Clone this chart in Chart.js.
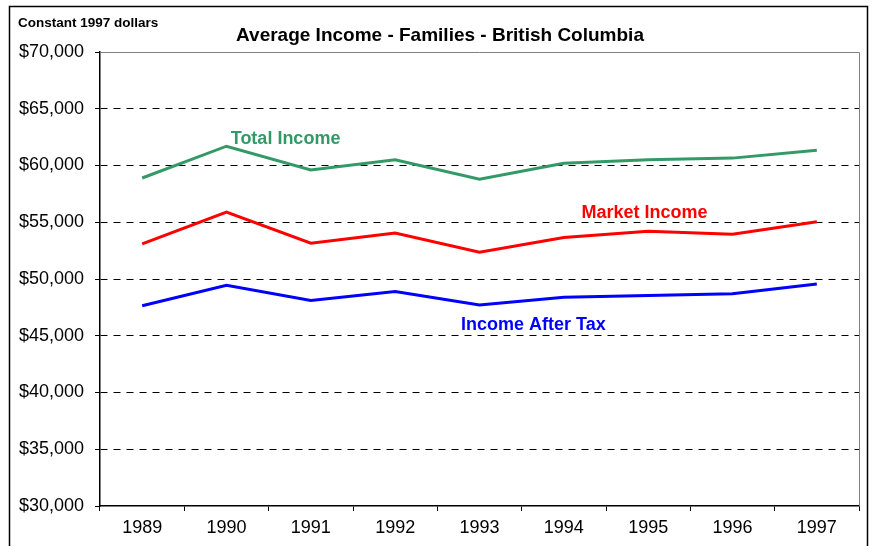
<!DOCTYPE html>
<html>
<head>
<meta charset="utf-8">
<script src="https://cdn.jsdelivr.net/npm/chart.js@4/dist/chart.umd.min.js"></script>
<style>
html, body { margin: 0; padding: 0; background: #fff; }
#wrap { width: 875px; height: 546px; position: relative; }
</style>
</head>
<body>
<div id="wrap"><canvas id="chart"></canvas></div>
<script>
var years = ['1989', '1990', '1991', '1992', '1993', '1994', '1995', '1996', '1997'];
var totalIncome = [58900, 61700, 59600, 60500, 58800, 60200, 60500, 60650, 61350];
var marketIncome = [53100, 55900, 53150, 54050, 52350, 53650, 54200, 53950, 55050];
var afterTax = [47650, 49450, 48100, 48900, 47700, 48400, 48550, 48700, 49550];
var yMin = 30000;
var yMax = 70000;
var yStep = 5000;

var chartTitle = 'Average Income - Families - British Columbia';
var unitNote = 'Constant 1997 dollars';

document.addEventListener('DOMContentLoaded', function () {

    // series names written next to their lines (x = category index, y = value)
    var lineLabels = [
        { text: 'Total Income', color: '#339966', x: 1.05, y: 62300 },
        { text: 'Market Income', color: '#ff0000', x: 5.21, y: 55800 },
        { text: 'Income After Tax', color: '#0000ff', x: 3.78, y: 45920 }
    ];

    var decorations = {
        id: 'decorations',
        afterDraw: function (chart) {
            var c = chart.ctx;
            var a = chart.chartArea;
            c.save();
            // outer frame
            c.strokeStyle = '#000';
            c.lineWidth = 1.5;
            c.strokeRect(9.5, 6.5, 858, 560);
            // plot area top and right edges
            c.strokeStyle = '#808080';
            c.lineWidth = 1;
            c.beginPath();
            c.moveTo(a.left, Math.round(a.top) + 0.5);
            c.lineTo(Math.round(a.right) + 0.5, Math.round(a.top) + 0.5);
            c.lineTo(Math.round(a.right) + 0.5, a.bottom);
            c.stroke();

            c.fillStyle = '#000';
            c.textBaseline = 'middle';
            c.textAlign = 'left';
            c.font = 'bold 13.5px Arial, "Liberation Sans", sans-serif';
            c.fillText(unitNote, 18, 23);
            c.textAlign = 'center';
            c.font = 'bold 19px Arial, "Liberation Sans", sans-serif';
            c.fillText(chartTitle, 440, 36);

            c.textAlign = 'left';
            c.font = 'bold 18px Arial, "Liberation Sans", sans-serif';
            var xs = chart.scales.x;
            var ys = chart.scales.y;
            lineLabels.forEach(function (l) {
                c.fillStyle = l.color;
                c.fillText(l.text, xs.getPixelForValue(l.x), ys.getPixelForValue(l.y));
            });
            c.restore();
        }
    };

    function makeSet(label, data, color) {
        return {
            label: label,
            data: data,
            borderColor: color,
            backgroundColor: color,
            borderWidth: 3,
            pointRadius: 0,
            tension: 0,
            fill: false
        };
    }

    var ctx = document.getElementById('chart').getContext('2d');
    var chart = new Chart(ctx, {
        type: 'line',
        data: {
            labels: years,
            datasets: [
                makeSet('Total Income', totalIncome, '#339966'),
                makeSet('Market Income', marketIncome, '#ff0000'),
                makeSet('Income After Tax', afterTax, '#0000ff')
            ]
        },
        options: {
            responsive: true,
            maintainAspectRatio: false,
            animation: false,
            layout: { padding: { top: 52, right: 16, bottom: 0, left: 0 } },
            plugins: {
                legend: { display: false },
                tooltip: { enabled: false }
            },
            scales: {
                x: {
                    offset: true,
                    grid: {
                        offset: true,
                        drawOnChartArea: false,
                        drawTicks: true,
                        tickLength: 5,
                        tickColor: '#000',
                        tickWidth: 1
                    },
                    border: { color: '#000', width: 1.5 },
                    ticks: {
                        color: '#000',
                        padding: 6,
                        maxRotation: 0,
                        font: { family: 'Arial, "Liberation Sans", sans-serif', size: 18 }
                    },
                    afterFit: function (scale) { scale.height = 40; }
                },
                y: {
                    min: yMin,
                    max: yMax,
                    grid: {
                        color: function (c) {
                            var v = c.tick && c.tick.value;
                            return (v === yMin || v === yMax) ? 'rgba(0,0,0,0)' : '#000';
                        },
                        lineWidth: 1,
                        tickLength: 5,
                        tickColor: '#000',
                        tickWidth: 1
                    },
                    border: { color: '#000', width: 1.5, dash: [7, 6] },
                    ticks: {
                        stepSize: yStep,
                        color: '#000',
                        padding: 11,
                        font: { family: 'Arial, "Liberation Sans", sans-serif', size: 18 },
                        callback: function (v) { return '$' + v.toLocaleString('en-US'); }
                    },
                    afterFit: function (scale) { scale.width = 100; }
                }
            }
        },
        plugins: [decorations]
    });

});
</script>
</body>
</html>
